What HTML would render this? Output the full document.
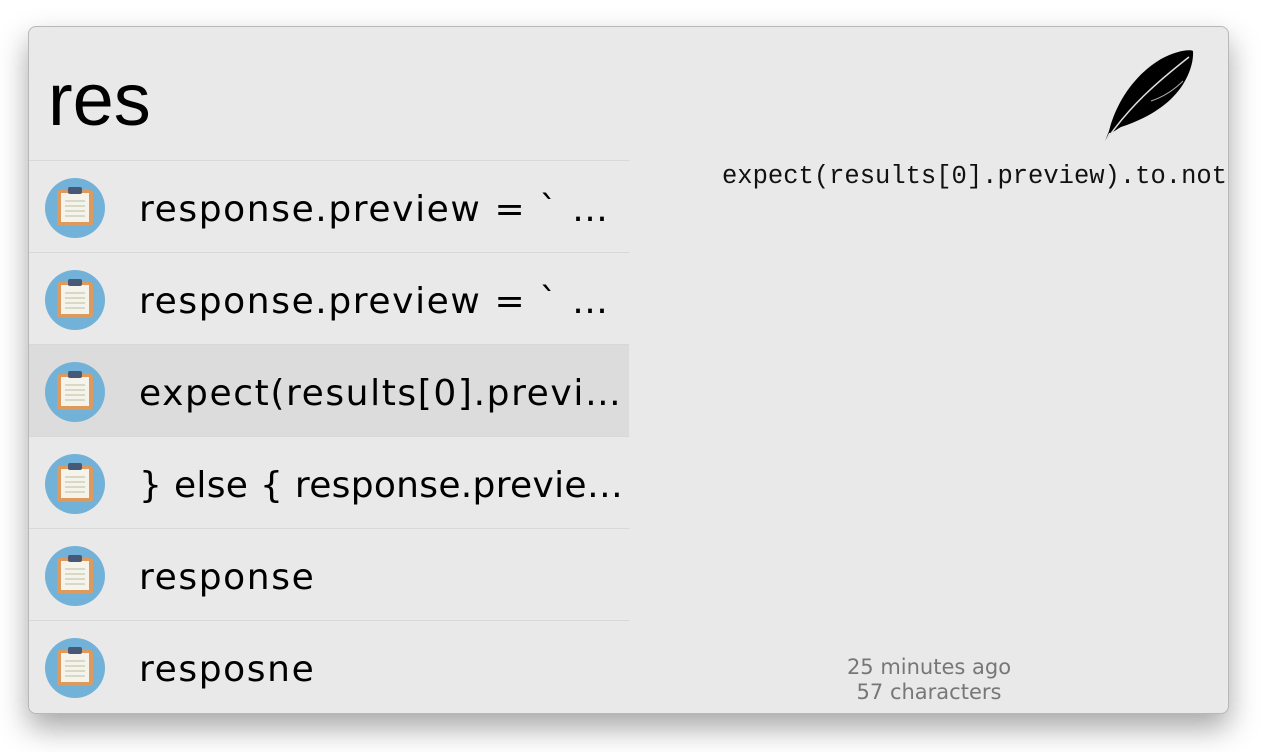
<!DOCTYPE html>
<html><head><style>
body{margin:0;width:1268px;height:752px;background:#fff;position:relative;overflow:hidden;font-family:"Liberation Sans",sans-serif}
.win{position:absolute;left:28px;top:26px;width:1199px;height:686px;background:#e9e9e9;border:1px solid #b8b8b8;border-radius:8px;box-shadow:0 14px 30px rgba(0,0,0,0.35);overflow:hidden}
.q{position:absolute;left:19px;top:33px;font-size:74px;line-height:80px;color:#000}
.list{position:absolute;left:0;top:133px;width:600px}
.row{height:91px;border-top:1px solid #d8d8d8;position:relative}
.row.sel{background:#dcdcdc}
.ic{position:absolute;left:16px;top:17px;width:60px;height:60px;border-radius:50%;background:#72b2d8}
.ic .b{position:absolute;left:12px;top:12px;width:36px;height:36px;background:#de9a5c;border-radius:3px}
.ic .p{position:absolute;left:16px;top:15px;width:28px;height:29px;background:#f4f3ec}
.ic .l{position:absolute;left:20px;width:20px;height:2px;background:#d9d8c4}
.ic .c{position:absolute;left:23px;top:9px;width:14px;height:7px;background:#465a77;border-radius:2px}
.t{position:absolute;left:110px;top:27px;font-family:"DejaVu Sans",sans-serif;font-size:36px;letter-spacing:1.6px;line-height:44px;color:#000;white-space:nowrap}
.pv{position:absolute;left:693px;top:135px;font-family:"Liberation Mono",monospace;font-size:25.5px;white-space:nowrap;color:#111}
.ft{position:absolute;left:800px;width:200px;text-align:center;top:628px;font-size:21px;line-height:25px;color:#777;font-family:"DejaVu Sans",sans-serif}
</style></head><body>
<div class="win">
<div class="q">res</div>
<svg style="position:absolute;left:1072px;top:20px" width="100" height="98" viewBox="0 0 100 98">
<path d="M4 94 L8 84 C14 60 30 30 60 12 C75 4 88 2 92 4 C93 18 85 38 70 52 C55 66 38 74 20 80 C16 82 12 86 8 86 Z" fill="#000"/>
<path d="M6 92 C30 58 55 36 88 10" stroke="#ddd" stroke-width="1.5" fill="none"/>
<path d="M50 54 C62 50 72 44 82 34" stroke="#aaa" stroke-width="1" fill="none"/>
</svg>
<div class="list">
<div class="row"><div class="ic"><div class="b"></div><div class="p"></div><div class="l" style="top:22px"></div><div class="l" style="top:27px"></div><div class="l" style="top:32px"></div><div class="l" style="top:37px"></div><div class="c"></div></div><div class="t">response.preview = ` …</div></div>
<div class="row"><div class="ic"><div class="b"></div><div class="p"></div><div class="l" style="top:22px"></div><div class="l" style="top:27px"></div><div class="l" style="top:32px"></div><div class="l" style="top:37px"></div><div class="c"></div></div><div class="t">response.preview = ` …</div></div>
<div class="row sel"><div class="ic"><div class="b"></div><div class="p"></div><div class="l" style="top:22px"></div><div class="l" style="top:27px"></div><div class="l" style="top:32px"></div><div class="l" style="top:37px"></div><div class="c"></div></div><div class="t">expect(results[0].previ…</div></div>
<div class="row"><div class="ic"><div class="b"></div><div class="p"></div><div class="l" style="top:22px"></div><div class="l" style="top:27px"></div><div class="l" style="top:32px"></div><div class="l" style="top:37px"></div><div class="c"></div></div><div class="t" style="letter-spacing:0.3px">} else { response.previe…</div></div>
<div class="row"><div class="ic"><div class="b"></div><div class="p"></div><div class="l" style="top:22px"></div><div class="l" style="top:27px"></div><div class="l" style="top:32px"></div><div class="l" style="top:37px"></div><div class="c"></div></div><div class="t">response</div></div>
<div class="row"><div class="ic"><div class="b"></div><div class="p"></div><div class="l" style="top:22px"></div><div class="l" style="top:27px"></div><div class="l" style="top:32px"></div><div class="l" style="top:37px"></div><div class="c"></div></div><div class="t">resposne</div></div>
</div>
<div class="pv">expect(results[0].preview).to.not.be.undefined</div>
<div class="ft">25 minutes ago<br>57 characters</div>
</div>
</body></html>
